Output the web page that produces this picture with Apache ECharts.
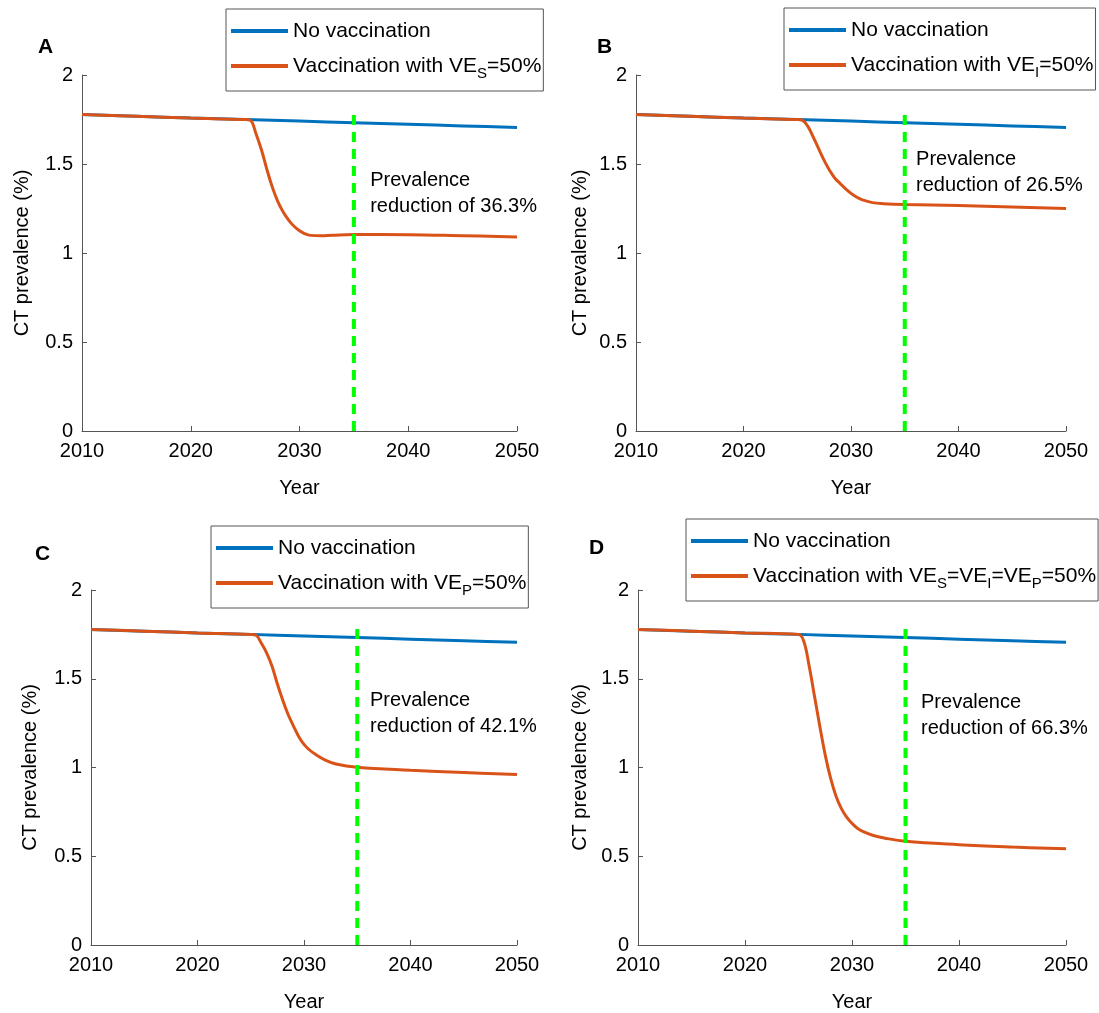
<!DOCTYPE html>
<html>
<head>
<meta charset="utf-8">
<script src="https://cdn.jsdelivr.net/npm/echarts@6/dist/echarts.min.js"></script>
<style>
  html, body { margin: 0; padding: 0; background: #fff; }
  #chart { width: 1099px; height: 1013px; }
</style>
</head>
<body>
<div id="chart"></div>
<script>
// years sampled for the vaccination curves
const years = [2010, 2015, 2020, 2025, 2025.5, 2026, 2026.5, 2027, 2027.5, 2028, 2028.5,
  2029, 2029.5, 2030, 2030.5, 2031, 2032, 2033, 2035, 2040, 2045, 2050]
const baseYears = [2010, 2015, 2020, 2025, 2030, 2035, 2040, 2045, 2050]
const noVaccination = [1.778, 1.768, 1.758, 1.750, 1.741, 1.732, 1.723, 1.714, 1.705]

const vaccA = [1.778, 1.768, 1.758, 1.750, 1.745, 1.67, 1.58, 1.47, 1.37, 1.29, 1.23,
  1.185, 1.15, 1.125, 1.108, 1.099, 1.097, 1.100, 1.104, 1.103, 1.097, 1.090]
const vaccB = [1.778, 1.768, 1.758, 1.750, 1.745, 1.71, 1.65, 1.585, 1.52, 1.465, 1.42,
  1.39, 1.36, 1.335, 1.315, 1.30, 1.283, 1.277, 1.272, 1.267, 1.259, 1.250]
const vaccC = [1.778, 1.768, 1.758, 1.750, 1.745, 1.70, 1.645, 1.57, 1.47, 1.38, 1.30,
  1.235, 1.175, 1.13, 1.10, 1.077, 1.042, 1.02, 1.002, 0.985, 0.972, 0.960]
const vaccD = [1.778, 1.768, 1.758, 1.750, 1.71, 1.57, 1.40, 1.23, 1.07, 0.94, 0.84,
  0.77, 0.72, 0.685, 0.658, 0.64, 0.617, 0.603, 0.584, 0.565, 0.552, 0.542]

const panelLetters = ['A', 'B', 'C', 'D']
const vaccNames = ['Vaccination with VES=50%', 'Vaccination with VEI=50%',
  'Vaccination with VEP=50%', 'Vaccination with VES=VEI=VEP=50%']
const vaccLegendRich = ['Vaccination with VE{s|S}=50%', 'Vaccination with VE{s|I}=50%',
  'Vaccination with VE{s|P}=50%', 'Vaccination with VE{s|S}=VE{s|I}=VE{s|P}=50%']
const reductions = ['36.3%', '26.5%', '42.1%', '66.3%']
const markerYear = 2035
const markerTop = 1.8
const noteYear = [2036.5, 2036.05, 2036.2, 2036.45]
const noteTop = [1.483, 1.596, 1.448, 1.437]
const xTicks = { min: 2010, max: 2050, interval: 10 }
const yTicks = { min: 0, max: 2, interval: 0.5 }

const vaccData = [vaccA, vaccB, vaccC, vaccD]

const FONT = 'Liberation Sans, Arial, Helvetica, sans-serif'
const BLUE = '#0072BD'
const ORANGE = '#D95319'
const GREEN = '#00FF00'
const AXIS = '#555'

// panel layout (pixels)
const grids = [
  { left: 82, right: 582, top: 75, bottom: 582 },
  { left: 636, right: 33, top: 75, bottom: 582 },
  { left: 91, right: 582, top: 590, bottom: 68 },
  { left: 638, right: 33, top: 590, bottom: 68 },
]
const yNameGap = [50, 46, 51, 48]
const letterPos = [[38, 37], [597, 37], [35, 544], [589, 538]]
const legendPos = [[226, 9], [784, 8], [211, 526], [686, 519]]

let option = {
  backgroundColor: '#fff',
  animation: false,
  textStyle: { fontFamily: FONT },
  title: [],
  grid: [],
  xAxis: [],
  yAxis: [],
  legend: [],
  series: [],
}

const richLegend = vaccNames.reduce((m, n, i) => { m[n] = vaccLegendRich[i]; return m }, {})

for (let i = 0; i < 4; i++) {
  option.title.push({
    text: panelLetters[i],
    left: letterPos[i][0],
    top: letterPos[i][1],
    padding: 0,
    textStyle: { fontFamily: FONT, fontWeight: 'bold', fontSize: 21, color: '#000' },
  })
  option.grid.push(Object.assign({ containLabel: false }, grids[i]))
  option.xAxis.push({
    type: 'value',
    gridIndex: i,
    min: xTicks.min,
    max: xTicks.max,
    interval: xTicks.interval,
    name: 'Year',
    nameLocation: 'middle',
    nameGap: 47,
    nameTextStyle: { fontFamily: FONT, fontSize: 20, color: '#000' },
    axisLine: { show: true, lineStyle: { color: AXIS, width: 1 } },
    axisTick: { show: true, inside: true, length: 5, lineStyle: { color: AXIS } },
    axisLabel: {
      color: '#000', fontSize: 20, fontFamily: FONT, margin: 10,
      formatter: (v) => String(v),
    },
    splitLine: { show: false },
  })
  option.yAxis.push({
    type: 'value',
    gridIndex: i,
    min: yTicks.min,
    max: yTicks.max,
    interval: yTicks.interval,
    name: 'CT prevalence (%)',
    nameLocation: 'middle',
    nameGap: yNameGap[i],
    nameRotate: 90,
    nameTextStyle: { fontFamily: FONT, fontSize: 20, color: '#000' },
    axisLine: { show: true, lineStyle: { color: AXIS, width: 1 } },
    axisTick: { show: true, inside: true, length: 5, lineStyle: { color: AXIS } },
    axisLabel: { color: '#000', fontSize: 20, fontFamily: FONT, margin: 9 },
    splitLine: { show: false },
  })
  option.legend.push({
    orient: 'vertical',
    left: legendPos[i][0],
    top: legendPos[i][1],
    padding: [10, 2, 10, 3],
    itemGap: 8,
    itemWidth: 57,
    itemHeight: 28,
    borderColor: AXIS,
    borderWidth: 1,
    borderRadius: 0,
    backgroundColor: '#fff',
    selectedMode: false,
    itemStyle: { opacity: 0 },
    lineStyle: { width: 4 },
    data: ['No vaccination', vaccNames[i]],
    formatter: (name) => richLegend[name] || name,
    textStyle: {
      fontFamily: FONT,
      fontSize: 21,
      color: '#000',
      lineHeight: 24,
      rich: {
        s: { fontFamily: FONT, fontSize: 15, lineHeight: 15, padding: [15, 0, 0, 0], color: '#000' },
      },
    },
  })
  option.series.push({
    name: 'No vaccination',
    type: 'line',
    xAxisIndex: i,
    yAxisIndex: i,
    symbol: 'none',
    smooth: 0.3,
    color: BLUE,
    lineStyle: { color: BLUE, width: 3 },
    data: baseYears.map((y, k) => [y, noVaccination[k]]),
    z: 2,
  })
  option.series.push({
    name: vaccNames[i],
    type: 'line',
    xAxisIndex: i,
    yAxisIndex: i,
    symbol: 'none',
    smooth: 0.4,
    color: ORANGE,
    lineStyle: { color: ORANGE, width: 3 },
    data: years.map((y, k) => [y, vaccData[i][k]]),
    z: 3,
  })
  option.series.push({
    name: 'marker',
    type: 'line',
    xAxisIndex: i,
    yAxisIndex: i,
    symbol: 'none',
    silent: true,
    lineStyle: { color: GREEN, width: 4, type: [10, 7] },
    data: [[markerYear, 0], [markerYear, markerTop]],
    z: 4,
  })
  option.series.push({
    name: 'note',
    type: 'scatter',
    xAxisIndex: i,
    yAxisIndex: i,
    symbolSize: 0,
    silent: true,
    itemStyle: { opacity: 1 },
    data: [[noteYear[i], noteTop[i]]],
    label: {
      show: true,
      position: [0, 0],
      align: 'left',
      verticalAlign: 'top',
      fontFamily: FONT,
      fontSize: 20,
      lineHeight: 26,
      color: '#000',
      textBorderWidth: 0,
      formatter: 'Prevalence\nreduction of ' + reductions[i],
    },
    z: 5,
  })
}

let mychart = echarts.init(document.getElementById('chart'), null, { renderer: 'canvas' })
mychart.setOption(option)
</script>
</body>
</html>
